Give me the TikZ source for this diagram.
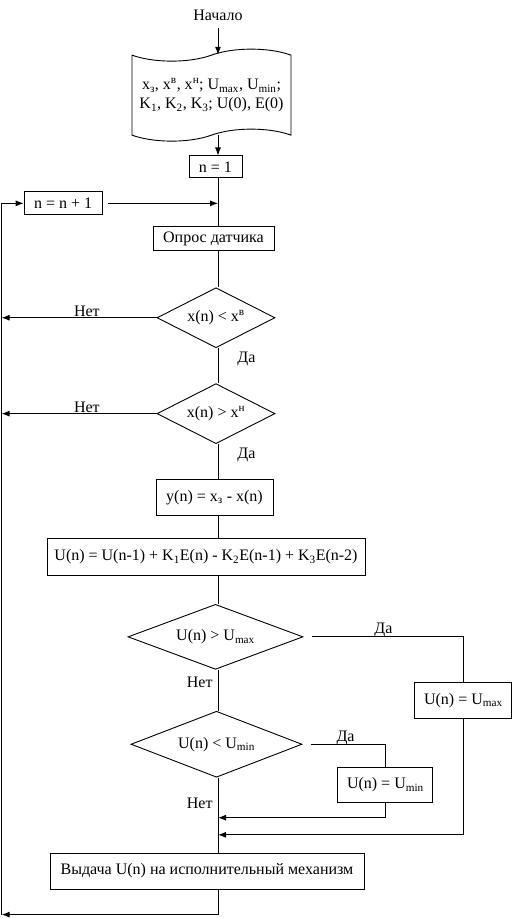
\documentclass[tikz,border=0pt]{standalone}
\usepackage{fontspec}
\setmainfont{Liberation Serif}
\usetikzlibrary{arrows.meta}
\usetikzlibrary{positioning}
\usetikzlibrary{shapes.geometric}
\usetikzlibrary{shapes.symbols}
\newcommand{\flowfont}{\fontsize{16}{19}\selectfont}
\tikzset{
  > = {Latex[length=8pt, width=6pt]},
  process/.style = {rectangle,
                    draw,
                    font = \flowfont,
                    inner sep = 2pt},
  decision/.style = {diamond,
                     draw,
                     aspect = 2,
                     font = \flowfont,
                     inner sep = 0pt},
  tapebox/.style = {tape,
                    draw,
                    align = center,
                    font = \flowfont,
                    tape bend height = 12pt,
                    minimum width = 159pt,
                    minimum height = 92pt,
                    inner sep = 2pt},
  answer/.style = {font = \flowfont,
                   inner sep = 1pt}
}

\begin{document}
\begin{tikzpicture}[line width = 0.9pt]

\useasboundingbox (-218pt,15pt) rectangle (295pt,-903pt);

\node[answer](start) at (0,0){Начало};

\node[tapebox](input)[below = 33pt of start, xshift = -6.5pt]
  {x\textsubscript{з}, x\textsuperscript{в}, x\textsuperscript{н}; U\textsubscript{max}, U\textsubscript{min};\\
   K\textsubscript{1}, K\textsubscript{2}, K\textsubscript{3}; U(0), E(0)};

\node[process, minimum width = 53pt, minimum height = 22pt](box-n1)[below = 20pt of input, xshift = 4pt]{n = 1};

\node[process, minimum width = 121pt, minimum height = 24pt](box-poll)[below = 48pt of box-n1, xshift = -2pt]{Опрос датчика};

\node[process, minimum width = 78pt, minimum height = 23pt](box-inc)[left = 50pt of box-poll, yshift = 35.5pt]{n = n + 1};

\node[decision, minimum width = 118pt, minimum height = 60pt](d-upper)[below = 36pt of box-poll, xshift = 2.5pt]{x(n) < x\textsuperscript{в}};

\node[decision, minimum width = 118pt, minimum height = 60pt](d-lower)[below = 35pt of d-upper]{x(n) > x\textsuperscript{н}};

\node[process, minimum width = 117pt, minimum height = 36pt](box-y)[below = 35pt of d-lower, xshift = -1.5pt]{y(n) = x\textsubscript{з} - x(n)};

\node[process, minimum width = 318pt, minimum height = 37pt](box-u)[below = 22pt of box-y, xshift = -8.5pt]
  {U(n) = U(n-1) + K\textsubscript{1}E(n) - K\textsubscript{2}E(n-1) + K\textsubscript{3}E(n-2)};

\node[decision, minimum width = 175pt, minimum height = 65pt](d-max)[below = 28pt of box-u, xshift = 9.5pt]{U(n) > U\textsubscript{max}};

\node[decision, minimum width = 171pt, minimum height = 66pt](d-min)[below = 41pt of d-max, xshift = 1pt]{U(n) < U\textsubscript{min}};

\node[process, minimum width = 97pt, minimum height = 36pt](box-umax)[right = 111pt of d-max, yshift = -63.5pt]{U(n) = U\textsubscript{max}};

\node[process, minimum width = 95pt, minimum height = 35pt](box-umin)[right = 35pt of d-min, yshift = -40.5pt]{U(n) = U\textsubscript{min}};

\node[process, minimum width = 314pt, minimum height = 36pt](box-out)[below = 75pt of d-min, xshift = -9.5pt]{Выдача U(n) на исполнительный механизм};

% left return line and bottom turn
\coordinate (left) at ([xshift = -22pt]box-inc.west);
\coordinate (ret) at ([yshift = -25pt]box-out.south -| start);
\coordinate (join-min) at ([yshift = -15pt]box-umin.south -| start);
\coordinate (join-max) at ([yshift = -116pt]box-umax.south -| start);

% main column
\draw[->, shorten <= 6pt] (start) -- (start |- input.north);
\draw[->] (input.south -| start) -- (box-n1.north -| start);
\draw (box-n1.south -| start) -- (box-poll.north -| start);
\draw[->, shorten <= 5pt] (box-inc.east) -- (box-inc.east -| start);
\draw (box-poll.south -| start) -- (d-upper.north -| start);
\draw (d-upper.south -| start) -- node[answer, pos = 0.3, right = 18pt]{Да} (d-lower.north -| start);
\draw (d-lower.south -| start) -- node[answer, pos = 0.3, right = 18pt]{Да} (box-y.north -| start);
\draw (box-y.south -| start) -- (box-u.north -| start);
\draw (box-u.south -| start) -- (d-max.north -| start);
\draw (d-max.south -| start) -- node[answer, pos = 0.3, left = 4pt]{Нет} (d-min.north -| start);
\draw (d-min.south -| start) -- node[answer, pos = 0.34, left = 4pt]{Нет} (box-out.north -| start);

% limits
\draw[shorten <= 9pt] (d-max.east) -| node[answer, pos = 0.25, above = -2pt]{Да} (box-umax.north);
\draw[shorten <= 9pt] (d-min.east) -| node[answer, pos = 0.26, above = -2pt]{Да} (box-umin.north);
\draw[->] (box-umin.south) |- (join-min);
\draw[->] (box-umax.south) |- (join-max);

% back to the loop
\draw[->] (d-upper.west) -- node[answer, pos = 0.45, above]{Нет} (d-upper.west -| left);
\draw[->] (d-lower.west) -- node[answer, pos = 0.45, above]{Нет} (d-lower.west -| left);
\draw[->] (box-out.south -| start) -- (ret) -- (ret -| left);
\draw[->] (ret -| left) |- (box-inc.west);

\end{tikzpicture}
\end{document}
